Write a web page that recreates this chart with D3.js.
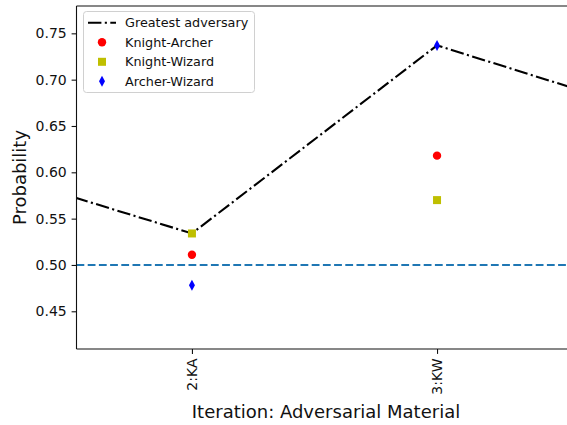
<!DOCTYPE html>
<html>
<head>
<meta charset="utf-8">
<script src="https://cdn.jsdelivr.net/npm/d3@7"></script>
<style>
  html, body { margin: 0; padding: 0; background: #fff; }
  svg { display: block; font-family: "DejaVu Sans", sans-serif; }
</style>
</head>
<body>
<svg id="chart" width="567" height="425"></svg>
<script>
// Iterations that carry a tick label
const iterations = [2, 3];
const tickLabels = ["2:KA", "3:KW"];

// Win probability per matchup at each labelled iteration
const knightArcher = [0.511, 0.618];
const knightWizard = [0.534, 0.570];
const archerWizard = [0.478, 0.737];

// Greatest adversary across the wider run of iterations
const greatestIter = [1, 2, 3, 4];
const greatestAdversary = [0.615, 0.534, 0.737, 0.654];

const baseline = 0.5;
const yTicks = [0.45, 0.50, 0.55, 0.60, 0.65, 0.70, 0.75];

(function () {
const svg = d3.select("#chart");
const pLeft = 76.5, pRight = 576, pTop = 6, pBottom = 349;
const ink = "#111";

const x = d3.scaleLinear().domain([1.529, 3.567]).range([pLeft, pRight]);
const y = d3.scaleLinear().domain([0.4093, 0.7795]).range([pBottom, pTop]);

svg.append("defs").append("clipPath").attr("id", "plotClip")
  .append("rect").attr("x", pLeft).attr("y", pTop)
  .attr("width", pRight - pLeft).attr("height", pBottom - pTop);

const plot = svg.append("g").attr("clip-path", "url(#plotClip)");

// Chance line
plot.append("line")
  .attr("x1", pLeft).attr("x2", pRight)
  .attr("y1", y(baseline)).attr("y2", y(baseline))
  .attr("stroke", "#1f77b4").attr("stroke-width", 2.1)
  .attr("stroke-dasharray", "7.8,3.4");

// Greatest adversary line
plot.append("path")
  .datum(greatestIter.map((d, i) => [d, greatestAdversary[i]]))
  .attr("fill", "none").attr("stroke", "#000").attr("stroke-width", 2.1)
  .attr("stroke-dasharray", "13.4,3.4,2.1,3.4")
  .attr("d", d3.line().x(d => x(d[0])).y(d => y(d[1])));

const pts = (vals) => iterations.map((d, i) => [d, vals[i]]);

plot.selectAll(".ka").data(pts(knightArcher)).join("circle")
  .attr("cx", d => x(d[0])).attr("cy", d => y(d[1])).attr("r", 4.2)
  .attr("fill", "#ff0000");

plot.selectAll(".kw").data(pts(knightWizard)).join("rect")
  .attr("x", d => x(d[0]) - 4).attr("y", d => y(d[1]) - 4)
  .attr("width", 8).attr("height", 8).attr("fill", "#bfbf00");

const diamond = "M0,-5.5L3,0L0,5.5L-3,0Z";
plot.selectAll(".aw").data(pts(archerWizard)).join("path")
  .attr("transform", d => `translate(${x(d[0])},${y(d[1])})`)
  .attr("d", diamond).attr("fill", "#0000ff");

// Axes
const yAxis = d3.axisLeft(y).tickValues(yTicks).tickFormat(d3.format(".2f"))
  .tickSize(4.9).tickPadding(4.9);
const gy = svg.append("g").attr("transform", `translate(${pLeft},0)`).call(yAxis);
gy.select(".domain").remove();
gy.selectAll("text").attr("font-size", 14).attr("fill", ink)
  .attr("font-family", "DejaVu Sans, sans-serif");
gy.selectAll("line").attr("stroke", ink).attr("stroke-width", 1.1);

const xAxis = d3.axisBottom(x).tickValues(iterations)
  .tickFormat((d, i) => tickLabels[i]).tickSize(4.9).tickPadding(4.9);
const gx = svg.append("g").attr("transform", `translate(0,${pBottom})`).call(xAxis);
gx.select(".domain").remove();
gx.selectAll("line").attr("stroke", ink).attr("stroke-width", 1.1);
gx.selectAll("text")
  .attr("font-size", 14).attr("fill", ink)
  .attr("font-family", "DejaVu Sans, sans-serif")
  .attr("transform", "rotate(-90)")
  .attr("x", -9.5).attr("y", 0).attr("dy", "0.35em")
  .attr("text-anchor", "end");

// Spines
const spine = svg.append("g").attr("stroke", ink).attr("stroke-width", 1.1).attr("fill", "none");
spine.append("line").attr("x1", pLeft).attr("x2", pLeft).attr("y1", pTop).attr("y2", pBottom);
spine.append("line").attr("x1", pLeft).attr("x2", pRight).attr("y1", pBottom).attr("y2", pBottom);
spine.append("line").attr("x1", pLeft).attr("x2", pRight).attr("y1", pTop).attr("y2", pTop);
spine.append("line").attr("x1", pRight).attr("x2", pRight).attr("y1", pTop).attr("y2", pBottom);

// Axis titles
svg.append("text").attr("x", 326).attr("y", 418)
  .attr("text-anchor", "middle").attr("font-size", 18).attr("fill", ink)
  .text("Iteration: Adversarial Material");
svg.append("text")
  .attr("transform", `translate(26,${(pTop + pBottom) / 2}) rotate(-90)`)
  .attr("text-anchor", "middle").attr("font-size", 18).attr("fill", ink)
  .text("Probability");

// Legend
const legendItems = ["Greatest adversary", "Knight-Archer", "Knight-Wizard", "Archer-Wizard"];
const lg = svg.append("g");
lg.append("rect").attr("x", 83.5).attr("y", 11.5).attr("width", 171).attr("height", 81)
  .attr("rx", 3).attr("fill", "#fff").attr("fill-opacity", 0.8)
  .attr("stroke", "#d0d0d0").attr("stroke-width", 1);
const rows = [22.8, 42.3, 61.8, 81.3];
legendItems.forEach((name, i) => {
  const cy = rows[i];
  if (i === 0) {
    lg.append("line").attr("x1", 88).attr("x2", 116).attr("y1", cy).attr("y2", cy)
      .attr("stroke", "#000").attr("stroke-width", 2.1)
      .attr("stroke-dasharray", "13.4,3.4,2.1,3.4");
  } else if (i === 1) {
    lg.append("circle").attr("cx", 102).attr("cy", cy).attr("r", 4.2).attr("fill", "#ff0000");
  } else if (i === 2) {
    lg.append("rect").attr("x", 98).attr("y", cy - 4).attr("width", 8).attr("height", 8).attr("fill", "#bfbf00");
  } else {
    lg.append("path").attr("transform", `translate(102,${cy})`).attr("d", diamond).attr("fill", "#0000ff");
  }
  lg.append("text").attr("x", 125).attr("y", cy).attr("dy", "0.35em")
    .attr("font-size", 12.8).attr("fill", ink).text(name);
});
})();
</script>
</body>
</html>
